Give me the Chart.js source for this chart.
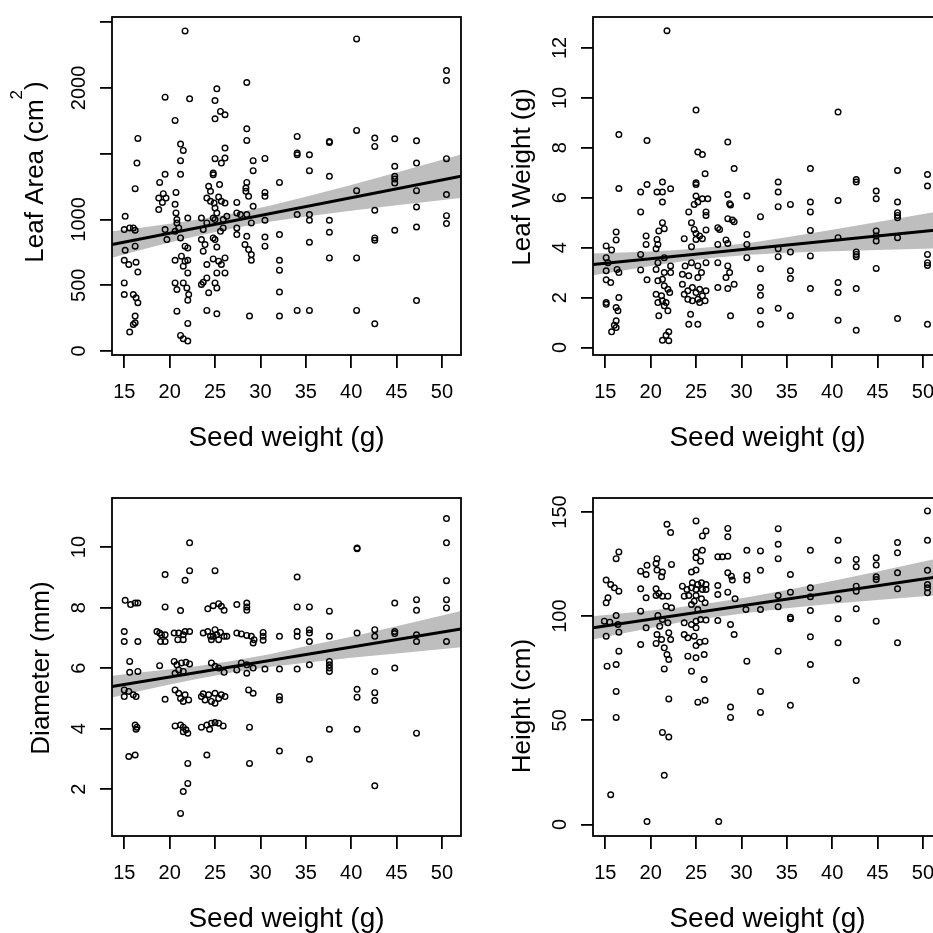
<!DOCTYPE html>
<html>
<head>
<meta charset="utf-8">
<script src="https://cdn.jsdelivr.net/npm/chart.js@4/dist/chart.umd.min.js"></script>
<style>
  html, body { margin: 0; padding: 0; background: #fff; overflow: hidden; width: 933px; height: 933px; }
  #grid { position: relative; width: 962px; height: 962px; }
  .cell { position: absolute; width: 481px; height: 481px; }
</style>
</head>
<body>
<div id="grid">
  <div class="cell" style="left:0;top:0"><canvas id="areaChart" width="481" height="481"></canvas></div>
  <div class="cell" style="left:481px;top:0"><canvas id="weightChart" width="481" height="481"></canvas></div>
  <div class="cell" style="left:0;top:481px"><canvas id="diamChart" width="481" height="481"></canvas></div>
  <div class="cell" style="left:481px;top:481px"><canvas id="heightChart" width="481" height="481"></canvas></div>
</div>
<script>
// seed weight span shown on every x axis, and where the fit / CI band is evaluated
const seedRange = [13.65, 52.1];
const bandSeed = [13.65, 17, 20, 23, 27, 31, 35, 40, 45, 52.1];
const seedTicks = [15, 20, 25, 30, 35, 40, 45, 50];

// leaf area (cm2) vs seed weight
const areaPts = [[21.7,2433],[19.5,1930],[22.2,1917],[25.2,1993],[25.0,1904],[28.5,2041],[20.6,1753],[25.0,1765],[25.6,1821],[26.1,1796],[28.5,1689],[28.5,1601],[16.5,1616],[16.4,1429],[16.2,1234],[21.2,1573],[21.5,1525],[21.2,1447],[21.2,1343],[26.1,1543],[25.0,1462],[26.1,1467],[25.7,1429],[29.2,1447],[30.5,1464],[29.2,1371],[24.8,1353],[24.8,1340],[19.5,1343],[18.9,1282],[24.3,1252],[24.5,1214],[25.5,1265],[28.5,1282],[28.4,1239],[28.4,1214],[28.7,1176],[32.1,1282],[30.5,1206],[30.5,1176],[19.3,1196],[18.8,1163],[19.2,1130],[18.8,1075],[19.6,1163],[20.7,1206],[20.6,1115],[20.7,1050],[20.8,999],[24.1,1163],[24.5,1138],[24.9,1125],[25.4,1170],[25.7,1138],[26.1,1125],[25.0,1087],[25.2,1049],[24.8,1011],[27.4,1130],[27.4,1050],[29.2,1100],[15.1,1024],[15.0,923],[15.6,936],[16.0,936],[16.2,918],[22.0,1011],[20.8,974],[21.0,936],[23.5,1011],[24.1,974],[25.0,999],[25.9,999],[26.3,1024],[27.8,1037],[28.5,1037],[29.0,974],[30.5,994],[19.5,923],[19.7,847],[20.6,910],[21.2,860],[21.7,797],[22.0,784],[23.7,923],[23.5,847],[23.9,809],[23.7,759],[24.8,860],[25.0,847],[25.2,791],[25.6,910],[25.9,936],[27.4,936],[27.4,885],[28.5,872],[28.3,809],[28.7,771],[29.0,733],[30.5,867],[30.5,797],[32.1,885],[16.2,797],[15.1,766],[15.0,690],[15.5,658],[16.3,675],[16.5,600],[20.6,690],[21.3,721],[21.7,683],[22.0,690],[21.5,645],[22.0,594],[24.1,658],[24.8,700],[25.4,683],[25.7,658],[26.1,708],[26.1,594],[25.2,594],[29.0,690],[32.1,690],[32.1,615],[15.0,518],[15.0,430],[16.0,430],[16.3,405],[16.5,367],[20.6,518],[20.8,468],[21.5,518],[21.9,480],[22.1,430],[22.0,387],[23.7,523],[24.1,556],[23.5,506],[24.3,443],[25.0,518],[25.2,480],[32.1,448],[16.2,266],[16.2,215],[16.0,202],[15.6,144],[20.8,303],[22.0,210],[24.1,309],[25.2,283],[28.8,266],[32.1,266],[21.2,119],[21.5,94],[22.0,76],
  [34.05,1631],[34.05,1505],[34.05,1492],[35.4,1492],[35.4,1371],[37.6,1593],[37.6,1586],[37.6,1328],[40.6,2372],[40.6,1677],[40.6,1219],[42.6,1619],[42.6,1555],[42.6,1070],[42.6,860],[42.6,842],[44.8,1613],[44.8,1404],[44.8,1328],[44.8,1307],[44.8,1277],[44.8,918],[47.2,1598],[47.2,1429],[47.2,1219],[47.2,1095],[47.2,943],[47.2,384],[50.5,2132],[50.5,2056],[50.5,1462],[50.5,1189],[50.5,1029],[50.5,969],[34.05,1037],[35.4,1037],[35.4,994],[35.4,827],[37.6,994],[37.6,903],[37.6,708],[40.6,708],[34.05,309],[35.4,309],[40.6,309],[42.6,207]];
const areaFit = [810, 1328];
const areaLow = [710, 772, 825, 875, 934, 983, 1023, 1067, 1108, 1163];
const areaHigh = [910, 939, 967, 998, 1046, 1105, 1173, 1263, 1357, 1493];
const areaTicks = [0, 500, 1000, 1500, 2000, 2500];
const areaTickLabels = [0, 500, 1000, 2000];

// leaf weight (g) vs seed weight
const weightPts = [[21.8,12.69],[25.0,9.51],[16.5,8.53],[19.6,8.29],[28.5,8.23],[25.2,7.83],[25.7,7.73],[29.2,7.17],[26.0,6.96],[16.5,6.37],[18.9,6.23],[19.6,6.53],[20.7,6.23],[21.3,6.63],[21.3,6.23],[22.2,6.36],[21.3,5.83],[25.0,6.6],[25.0,6.53],[25.0,6.07],[25.7,5.96],[26.3,5.96],[24.8,5.73],[25.2,5.83],[28.5,6.13],[28.7,5.76],[28.8,5.71],[30.6,6.07],[18.9,5.43],[24.2,5.43],[26.1,5.43],[26.1,5.29],[21.3,5.0],[21.5,4.76],[24.5,5.0],[24.8,4.73],[25.0,4.57],[27.4,4.8],[27.6,4.73],[28.5,5.16],[29.0,5.11],[29.2,5.04],[30.6,4.53],[16.2,4.63],[16.2,4.31],[15.1,4.07],[15.7,3.91],[19.5,4.47],[19.5,4.13],[20.7,4.33],[20.8,4.13],[20.6,3.96],[20.9,4.67],[23.7,4.36],[24.5,4.04],[25.0,4.33],[25.4,4.47],[25.7,4.36],[26.1,4.71],[27.4,4.13],[28.3,4.31],[28.5,4.17],[30.6,4.13],[32.1,5.24],[18.9,3.73],[15.1,3.6],[15.3,3.4],[16.3,3.13],[16.5,3.0],[18.9,3.11],[20.8,3.4],[21.5,3.6],[22.2,3.27],[21.5,3.0],[22.2,3.0],[23.8,3.27],[24.5,3.4],[25.2,3.27],[26.1,3.4],[23.5,2.93],[24.2,2.87],[25.2,2.8],[25.6,3.0],[27.4,3.4],[28.5,3.27],[28.7,3.0],[28.3,2.8],[30.6,3.6],[32.1,3.16],[15.1,3.07],[15.1,2.71],[15.6,2.6],[19.6,2.71],[20.6,3.13],[20.8,2.67],[21.5,2.47],[21.9,2.33],[22.1,2.2],[21.3,2.73],[23.5,2.53],[24.1,2.27],[24.6,2.4],[25.0,2.2],[25.4,2.33],[25.7,2.07],[26.1,2.27],[23.7,2.13],[27.4,2.4],[28.5,2.36],[29.2,2.53],[32.1,2.4],[32.1,2.09],[16.5,2.0],[20.6,2.13],[21.2,2.07],[20.8,1.8],[21.3,1.87],[21.7,1.8],[21.9,1.47],[21.5,1.67],[24.1,1.93],[24.6,1.87],[25.2,1.93],[25.4,1.8],[26.0,1.87],[15.1,1.8],[15.1,1.73],[16.2,1.6],[16.4,1.47],[24.4,1.33],[20.9,1.27],[28.8,1.27],[32.1,1.47],[32.1,0.93],[16.2,1.07],[16.0,0.89],[16.2,0.8],[15.7,0.63],[24.2,0.93],[25.2,0.93],[22.0,0.63],[21.7,0.49],[21.3,0.29],[22.0,0.27],
  [34.05,6.63],[34.05,6.23],[34.05,5.64],[35.4,5.73],[34.05,3.96],[34.05,3.64],[35.4,3.83],[35.4,3.07],[35.4,2.76],[34.05,1.57],[35.4,1.27],[37.6,7.17],[37.6,5.83],[37.6,5.43],[37.6,4.69],[37.6,3.67],[37.6,2.36],[40.65,9.43],[40.65,5.89],[40.65,4.4],[40.65,2.6],[40.65,2.2],[40.65,1.09],[42.65,6.73],[42.65,6.63],[42.65,3.83],[42.65,3.73],[42.65,3.64],[42.65,2.36],[42.65,0.69],[44.85,6.27],[44.85,5.96],[44.85,4.67],[44.85,4.47],[44.85,4.27],[44.85,3.17],[47.2,7.09],[47.2,5.83],[47.2,5.4],[47.2,5.29],[47.2,5.2],[47.2,4.4],[47.2,1.16],[50.5,6.93],[50.5,6.47],[50.5,3.73],[50.5,3.4],[50.5,3.29],[50.5,0.93]];
const weightFit = [3.33, 4.73];
const weightLow = [2.89, 3.09, 3.27, 3.43, 3.60, 3.72, 3.80, 3.86, 3.91, 3.98];
const weightHigh = [3.77, 3.81, 3.85, 3.91, 4.04, 4.20, 4.42, 4.72, 5.03, 5.48];
const weightTickLabels = [0, 2, 4, 6, 8, 10, 12];

// stem diameter (mm) vs seed weight
const diamPts = [[22.2,10.14],[19.5,9.09],[22.2,9.22],[21.7,8.9],[25.0,9.22],[15.1,8.24],[15.7,8.1],[16.2,8.15],[16.5,8.15],[19.5,8.02],[21.2,7.9],[24.2,7.96],[24.8,8.06],[25.4,8.13],[25.7,8.04],[26.0,7.91],[27.4,8.1],[28.5,8.15],[28.5,8.02],[28.5,7.91],[15.0,7.21],[15.0,6.88],[16.5,6.88],[18.6,7.21],[18.9,7.16],[19.1,7.1],[19.5,7.1],[19.0,6.88],[19.5,6.88],[20.5,7.16],[21.0,7.16],[21.5,7.1],[21.7,7.21],[22.2,7.21],[20.9,6.94],[21.5,6.94],[23.7,7.16],[24.2,7.21],[24.5,7.05],[24.8,7.05],[25.2,7.1],[25.6,7.18],[26.0,7.05],[25.0,7.27],[24.6,6.94],[25.4,6.94],[26.3,7.05],[27.4,7.16],[27.9,7.13],[28.5,7.08],[29.0,7.05],[29.3,6.94],[29.2,6.83],[30.3,7.18],[30.3,7.05],[30.3,6.92],[32.1,7.05],[15.6,6.22],[15.6,5.86],[16.5,5.89],[18.9,6.08],[20.5,6.22],[20.8,6.11],[21.3,6.17],[21.8,6.19],[22.2,6.14],[21.0,5.94],[21.5,5.89],[20.6,5.83],[24.6,6.17],[25.0,6.06],[25.4,6.0],[26.0,5.86],[27.4,5.94],[27.9,6.17],[28.5,6.11],[28.5,5.83],[29.2,6.0],[30.5,5.97],[32.1,5.97],[15.0,5.28],[15.0,5.06],[15.5,5.23],[16.0,5.12],[16.3,5.06],[19.5,4.97],[20.6,5.28],[21.0,5.17],[21.2,5.0],[21.7,5.12],[22.1,4.95],[21.5,4.9],[23.5,5.06],[23.9,4.95],[24.3,5.12],[24.6,4.9],[25.0,5.17],[25.4,5.0],[25.7,5.12],[26.1,5.06],[25.0,4.84],[23.7,5.15],[28.7,5.28],[29.2,5.17],[32.1,5.06],[32.1,4.95],[16.2,4.12],[16.4,4.05],[16.3,3.98],[20.6,4.09],[21.2,4.12],[21.5,4.05],[21.8,3.96],[22.0,3.85],[21.5,3.9],[23.5,4.05],[24.1,4.12],[24.6,4.18],[25.0,4.2],[25.4,4.18],[25.9,4.09],[24.4,3.98],[28.8,4.05],[15.5,3.08],[16.2,3.13],[22.0,2.85],[24.1,3.13],[28.8,2.85],[32.1,3.26],[22.0,2.19],[21.5,1.92],[21.2,1.2],
  [34.05,9.01],[34.05,8.02],[35.4,8.02],[37.6,7.88],[34.05,7.21],[34.05,7.05],[35.4,7.27],[35.4,7.16],[35.4,6.88],[37.6,7.05],[40.65,9.97],[40.65,9.94],[40.65,7.16],[42.6,7.27],[42.6,7.05],[44.8,8.15],[44.8,7.21],[44.8,7.14],[47.2,8.26],[47.2,7.91],[47.2,7.1],[47.2,6.88],[50.5,10.94],[50.5,10.14],[50.5,8.89],[50.5,8.26],[50.5,7.99],[50.5,6.88],[34.05,5.97],[35.4,6.11],[37.6,6.22],[37.6,6.11],[37.6,6.0],[37.6,5.89],[42.6,5.89],[44.8,6.0],[40.65,5.3],[40.65,5.04],[42.6,5.19],[42.6,4.93],[37.6,3.98],[40.65,3.98],[47.2,3.85],[35.4,2.99],[42.6,2.11]];
const diamFit = [5.39, 7.29];
const diamLow = [5.03, 5.26, 5.46, 5.64, 5.86, 6.04, 6.18, 6.34, 6.48, 6.69];
const diamHigh = [5.75, 5.86, 5.96, 6.06, 6.24, 6.46, 6.72, 7.04, 7.38, 7.89];
const diamTickLabels = [2, 4, 6, 8, 10];

// plant height (cm) vs seed weight
const heightPts = [[25.0,145.7],[21.8,144.1],[22.2,140.1],[26.1,140.9],[25.7,138.5],[28.5,142.1],[28.5,138.1],[16.5,130.8],[16.2,127.6],[20.7,127.6],[20.6,125.3],[19.6,124.4],[22.3,124.8],[25.0,130.8],[25.7,131.6],[25.0,128.0],[25.5,126.4],[27.4,128.5],[27.9,128.5],[28.5,128.8],[30.6,131.6],[32.1,131.3],[32.1,122.0],[18.9,121.6],[19.5,120.0],[20.7,122.1],[21.2,118.9],[21.3,121.2],[24.5,121.2],[25.0,122.1],[28.5,120.8],[28.9,119.2],[29.0,117.3],[30.6,119.6],[30.6,117.3],[15.1,117.3],[15.6,115.2],[16.0,113.6],[16.5,112.0],[18.9,113.1],[20.6,113.1],[20.9,110.9],[21.3,109.6],[21.9,109.6],[20.6,109.9],[23.5,114.4],[24.0,112.8],[24.5,113.6],[24.6,116.0],[25.2,115.2],[25.6,116.0],[26.1,115.2],[25.0,112.8],[25.7,112.8],[26.1,112.8],[23.7,109.6],[24.2,109.9],[25.0,109.9],[25.6,108.3],[27.4,114.7],[27.4,110.4],[28.5,111.5],[29.3,108.3],[15.3,108.8],[15.1,106.4],[19.5,108.8],[22.3,104.0],[21.7,104.8],[24.5,105.6],[24.8,107.2],[25.2,103.2],[26.0,106.4],[30.5,103.2],[32.1,103.2],[18.9,102.4],[16.2,100.3],[14.9,97.6],[15.5,97.1],[16.4,96.0],[20.8,100.3],[21.3,98.4],[21.9,96.8],[21.0,95.2],[19.5,94.4],[23.7,96.8],[24.5,96.0],[25.0,97.6],[25.5,98.4],[26.1,98.1],[25.0,94.4],[27.4,97.9],[28.8,96.0],[29.2,91.2],[15.1,90.4],[16.5,92.3],[20.7,91.2],[21.2,88.8],[22.0,92.0],[22.2,88.8],[20.6,86.9],[18.9,86.4],[23.7,91.2],[24.1,89.6],[24.8,90.4],[25.4,87.5],[26.0,88.0],[25.0,85.9],[16.5,83.2],[16.2,76.8],[15.2,76.0],[21.5,84.8],[21.8,81.6],[22.0,79.2],[21.5,74.7],[24.1,80.8],[25.0,80.0],[25.9,81.6],[24.5,73.6],[30.6,78.4],[25.9,69.6],[16.2,63.9],[16.2,51.4],[22.0,60.3],[25.2,58.7],[26.0,59.6],[28.8,56.4],[28.8,51.4],[32.1,63.9],[32.1,53.8],[21.3,44.2],[22.0,42.0],[21.5,23.6],[15.6,14.3],[19.6,1.4],[27.5,1.4],
  [34.05,142.0],[34.05,134.5],[34.05,127.6],[35.4,120.0],[34.05,109.9],[34.05,104.5],[35.4,111.5],[35.4,99.5],[35.4,98.7],[34.05,83.2],[35.4,57.2],[37.6,131.6],[37.6,113.6],[37.6,109.3],[37.6,102.7],[37.6,90.1],[37.6,76.8],[40.65,136.4],[40.65,126.8],[40.65,108.3],[40.65,98.7],[40.65,87.2],[42.65,127.2],[42.65,123.7],[42.65,114.4],[42.65,112.0],[42.65,103.5],[42.65,69.1],[44.85,128.0],[44.85,124.5],[44.85,118.9],[44.85,117.6],[44.85,97.6],[47.2,135.3],[47.2,130.4],[47.2,120.8],[47.2,113.1],[47.2,87.2],[50.5,150.5],[50.5,136.4],[50.5,122.0],[50.5,115.2],[50.5,113.6],[50.5,111.2]];
const heightFit = [94.4, 119.2];
const heightLow = [88.8, 91.8, 94.3, 96.8, 99.5, 101.8, 103.8, 105.9, 107.8, 110.3];
const heightHigh = [100.0, 101.4, 102.7, 104.2, 106.5, 109.3, 112.6, 116.9, 121.4, 128.1];
const heightTickLabels = [0, 50, 100, 150];

const FONT = '"Liberation Sans", Arial, sans-serif';

// R-style frame round the plotting region
const boxPlugin = {
  id: 'rBox',
  afterDatasetsDraw(chart) {
    const { ctx, chartArea: a } = chart;
    ctx.save();
    ctx.strokeStyle = '#000';
    ctx.lineWidth = 1.8;
    ctx.strokeRect(a.left, a.top, a.right - a.left, a.bottom - a.top);
    ctx.restore();
  }
};

// vertical tick labels and the y title, read upwards like base R
function yTextPlugin(spec) {
  return {
    id: 'yText',
    afterDraw(chart) {
      const ctx = chart.ctx;
      const y = chart.scales.y;
      ctx.save();
      ctx.fillStyle = '#000';
      ctx.textBaseline = 'alphabetic';
      ctx.font = '20px ' + FONT;
      ctx.textAlign = 'center';
      spec.labels.forEach(v => {
        ctx.save();
        ctx.translate(spec.tickBase, y.getPixelForValue(v));
        ctx.rotate(-Math.PI / 2);
        ctx.fillText(String(v), 0, 0);
        ctx.restore();
      });

      ctx.textAlign = 'left';
      let total = 0;
      const parts = spec.title.map(p => {
        ctx.font = p.size + 'px ' + FONT;
        const w = ctx.measureText(p.text).width;
        total += w;
        return { text: p.text, size: p.size, rise: p.rise || 0, w };
      });
      ctx.translate(spec.titleBase, spec.titleMid);
      ctx.rotate(-Math.PI / 2);
      let pos = -total / 2;
      parts.forEach(p => {
        ctx.font = p.size + 'px ' + FONT;
        ctx.fillText(p.text, pos, -p.rise);
        pos += p.w;
      });
      ctx.restore();
    }
  };
}

function makePanel(id, pts, fit, low, high, ySpec) {
  const datasets = [
    {
      type: 'line',
      data: [{ x: seedRange[0], y: fit[0] }, { x: seedRange[1], y: fit[1] }],
      borderColor: '#000',
      borderWidth: 3,
      pointRadius: 0,
      fill: false,
      order: 0
    },
    {
      type: 'scatter',
      data: pts.map(p => ({ x: p[0], y: p[1] })),
      pointStyle: 'circle',
      pointRadius: 2.8,
      pointBorderWidth: 1.4,
      borderColor: '#000',
      backgroundColor: 'rgba(0,0,0,0)',
      order: 1
    },
    {
      type: 'line',
      data: bandSeed.map((x, i) => ({ x, y: high[i] })),
      borderColor: 'rgba(0,0,0,0)',
      backgroundColor: '#bebebe',
      pointRadius: 0,
      fill: '+1',
      order: 2
    },
    {
      type: 'line',
      data: bandSeed.map((x, i) => ({ x, y: low[i] })),
      borderColor: 'rgba(0,0,0,0)',
      pointRadius: 0,
      fill: false,
      order: 2
    }
  ];

  return new Chart(document.getElementById(id), {
    type: 'scatter',
    data: { datasets },
    plugins: [boxPlugin, yTextPlugin(ySpec.text)],
    options: {
      responsive: false,
      animation: false,
      events: [],
      layout: { padding: { top: 17, right: 20, bottom: 0, left: 0 } },
      plugins: {
        legend: { display: false },
        tooltip: { enabled: false }
      },
      scales: {
        x: {
          type: 'linear',
          min: seedRange[0],
          max: seedRange[1],
          afterFit: s => { s.height = 126; },
          afterBuildTicks: s => { s.ticks = seedTicks.map(v => ({ value: v })); },
          ticks: {
            padding: 12,
            color: '#000',
            font: { family: FONT, size: 20 }
          },
          grid: { drawOnChartArea: false, drawTicks: true, tickLength: 13, color: '#000', lineWidth: 1.8 },
          border: { display: false },
          title: {
            display: true,
            text: 'Seed weight (g)',
            color: '#000',
            font: { family: FONT, size: 28 },
            padding: { top: 0, bottom: 26 }
          }
        },
        y: {
          type: 'linear',
          min: ySpec.min,
          max: ySpec.max,
          afterFit: s => { s.width = 112; },
          afterBuildTicks: s => { s.ticks = ySpec.ticks.map(v => ({ value: v })); },
          ticks: { display: false },
          grid: { drawOnChartArea: false, drawTicks: true, tickLength: 12, color: '#000', lineWidth: 1.8 },
          border: { display: false }
        }
      }
    }
  });
}

makePanel('areaChart', areaPts, areaFit, areaLow, areaHigh, {
  min: -30, max: 2539, ticks: areaTicks,
  text: {
    labels: areaTickLabels, tickBase: 85, titleBase: 43, titleMid: 172,
    title: [{ text: 'Leaf Area (cm', size: 26 }, { text: '2', size: 17, rise: 21 }, { text: ')', size: 26 }]
  }
});

makePanel('weightChart', weightPts, weightFit, weightLow, weightHigh, {
  min: -0.30, max: 13.24, ticks: weightTickLabels,
  text: {
    labels: weightTickLabels, tickBase: 85, titleBase: 49, titleMid: 177,
    title: [{ text: 'Leaf Weight (g)', size: 26 }]
  }
});

makePanel('diamChart', diamPts, diamFit, diamLow, diamHigh, {
  min: 0.454, max: 11.62, ticks: diamTickLabels,
  text: {
    labels: diamTickLabels, tickBase: 85, titleBase: 49, titleMid: 187,
    title: [{ text: 'Diameter (mm)', size: 26 }]
  }
});

makePanel('heightChart', heightPts, heightFit, heightLow, heightHigh, {
  min: -5.5, max: 156.7, ticks: heightTickLabels,
  text: {
    labels: heightTickLabels, tickBase: 85, titleBase: 49, titleMid: 225,
    title: [{ text: 'Height (cm)', size: 26 }]
  }
});
</script>
</body>
</html>
